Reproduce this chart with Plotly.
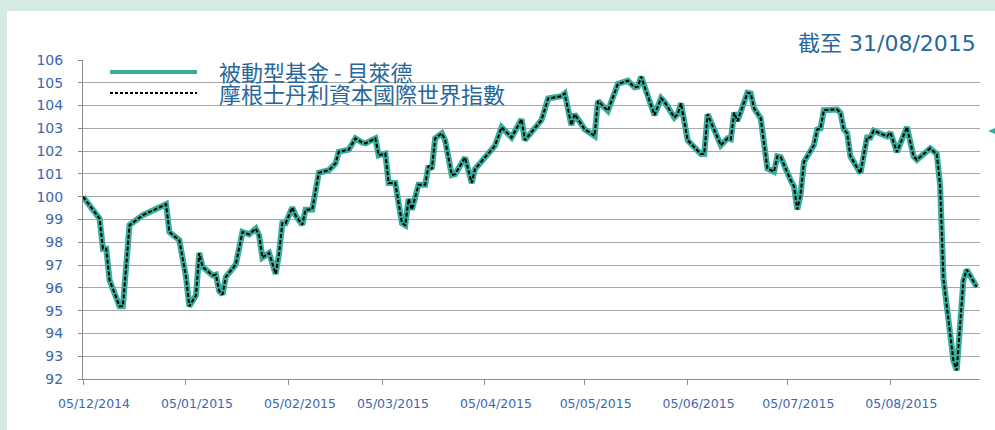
import plotly.graph_objects as go

dates = [
    "2014-12-05", "2014-12-09", "2014-12-10", "2014-12-11", "2014-12-12", "2014-12-13",
    "2014-12-16", "2014-12-17", "2014-12-18", "2014-12-19", "2014-12-23", "2014-12-30",
    "2014-12-31", "2015-01-03", "2015-01-05", "2015-01-06", "2015-01-08", "2015-01-09",
    "2015-01-10", "2015-01-13", "2015-01-14", "2015-01-15", "2015-01-16", "2015-01-17",
    "2015-01-20", "2015-01-22", "2015-01-24", "2015-01-26", "2015-01-27", "2015-01-28",
    "2015-01-30", "2015-02-01", "2015-02-02", "2015-02-03", "2015-02-04", "2015-02-06",
    "2015-02-07", "2015-02-09", "2015-02-10", "2015-02-12", "2015-02-14", "2015-02-17",
    "2015-02-19", "2015-02-20", "2015-02-23", "2015-02-25", "2015-02-27", "2015-02-28",
    "2015-03-03", "2015-03-04", "2015-03-06", "2015-03-07", "2015-03-09", "2015-03-11",
    "2015-03-12", "2015-03-13", "2015-03-14", "2015-03-16", "2015-03-18", "2015-03-19",
    "2015-03-20", "2015-03-21", "2015-03-23", "2015-03-24", "2015-03-26", "2015-03-27",
    "2015-03-30", "2015-04-01", "2015-04-02", "2015-04-08", "2015-04-10", "2015-04-13",
    "2015-04-16", "2015-04-17", "2015-04-22", "2015-04-24", "2015-04-28", "2015-04-29",
    "2015-05-01", "2015-05-02", "2015-05-05", "2015-05-08", "2015-05-09", "2015-05-12",
    "2015-05-15", "2015-05-18", "2015-05-20", "2015-05-21", "2015-05-22", "2015-05-26",
    "2015-05-28", "2015-05-29", "2015-06-01", "2015-06-02", "2015-06-03", "2015-06-05",
    "2015-06-09", "2015-06-10", "2015-06-11", "2015-06-15", "2015-06-17", "2015-06-18",
    "2015-06-19", "2015-06-20", "2015-06-23", "2015-06-24", "2015-06-25", "2015-06-27",
    "2015-06-29", "2015-07-01", "2015-07-02", "2015-07-03", "2015-07-06", "2015-07-07",
    "2015-07-08", "2015-07-09", "2015-07-10", "2015-07-13", "2015-07-14", "2015-07-15",
    "2015-07-16", "2015-07-20", "2015-07-21", "2015-07-22", "2015-07-23", "2015-07-24",
    "2015-07-27", "2015-07-29", "2015-07-30", "2015-07-31", "2015-08-04", "2015-08-05",
    "2015-08-07", "2015-08-10", "2015-08-12", "2015-08-13", "2015-08-17", "2015-08-19",
    "2015-08-20", "2015-08-21", "2015-08-24", "2015-08-25", "2015-08-27", "2015-08-28",
    "2015-08-31",
]

fund_values = [
    100.00, 99.26, 99.04, 97.72, 97.72, 96.33,
    95.19, 95.19, 97.06, 98.75, 99.19, 99.67,
    98.45, 98.09, 96.48, 95.19, 95.67, 97.53,
    96.92, 96.55, 96.58, 95.86, 95.71, 96.48,
    97.03, 98.45, 98.35, 98.60, 98.31, 97.33,
    97.53, 96.61, 97.50, 98.84, 98.84, 99.53,
    99.17, 98.77, 99.43, 99.44, 101.05, 101.16,
    101.46, 101.97, 102.07, 102.56, 102.38, 102.34,
    102.56, 101.82, 101.89, 100.60, 100.60, 98.84,
    98.75, 99.90, 99.43, 100.53, 100.53, 101.36,
    101.21, 102.56, 102.78, 102.48, 100.95, 100.99,
    101.72, 100.60, 101.21, 102.24, 103.05, 102.60,
    103.40, 102.48, 103.36, 104.31, 104.41, 104.53,
    103.14, 103.62, 102.96, 102.67, 104.20, 103.77,
    104.95, 105.09, 104.80, 104.83, 105.27, 103.58,
    104.32, 104.17, 103.48, 103.62, 104.10, 102.48,
    101.87, 101.87, 103.62, 102.26, 102.56, 102.52,
    103.69, 103.32, 104.56, 104.53, 103.88, 103.44,
    101.24, 101.10, 101.77, 101.74, 100.73, 100.46,
    99.44, 100.07, 101.53, 102.26, 102.95, 103.00,
    103.80, 103.83, 103.68, 102.96, 102.79, 101.77,
    101.03, 102.60, 102.60, 102.90, 102.65, 102.82,
    101.96, 103.06, 101.77, 101.62, 102.12, 101.87,
    100.50, 96.40, 92.80, 92.38, 96.33, 96.80,
    96.04,
]

index_values = [
    100.00, 99.26, 99.04, 97.72, 97.72, 96.33,
    95.19, 95.19, 97.06, 98.75, 99.19, 99.67,
    98.45, 98.09, 96.48, 95.19, 95.67, 97.53,
    96.92, 96.55, 96.58, 95.86, 95.71, 96.48,
    97.03, 98.45, 98.35, 98.60, 98.31, 97.33,
    97.53, 96.61, 97.50, 98.84, 98.84, 99.53,
    99.17, 98.77, 99.43, 99.44, 101.05, 101.16,
    101.46, 101.97, 102.07, 102.56, 102.38, 102.34,
    102.56, 101.82, 101.89, 100.60, 100.60, 98.84,
    98.75, 99.90, 99.43, 100.53, 100.53, 101.36,
    101.21, 102.56, 102.78, 102.48, 100.95, 100.99,
    101.72, 100.60, 101.21, 102.24, 103.05, 102.60,
    103.40, 102.48, 103.36, 104.31, 104.41, 104.53,
    103.14, 103.62, 102.96, 102.67, 104.20, 103.77,
    104.95, 105.09, 104.80, 104.83, 105.27, 103.58,
    104.32, 104.17, 103.48, 103.62, 104.10, 102.48,
    101.87, 101.87, 103.62, 102.26, 102.56, 102.52,
    103.69, 103.32, 104.56, 104.53, 103.88, 103.44,
    101.24, 101.10, 101.77, 101.74, 100.73, 100.46,
    99.44, 100.07, 101.53, 102.26, 102.95, 103.00,
    103.80, 103.83, 103.68, 102.96, 102.79, 101.77,
    101.03, 102.60, 102.60, 102.90, 102.65, 102.82,
    101.96, 103.06, 101.77, 101.62, 102.12, 101.87,
    100.50, 96.40, 92.80, 92.38, 96.33, 96.80,
    96.04,
]

tick_dates = ["2014-12-05", "2015-01-05", "2015-02-05", "2015-03-05", "2015-04-05",
              "2015-05-05", "2015-06-05", "2015-07-05", "2015-08-05"]
tick_labels = ["05/12/2014", "05/01/2015", "05/02/2015", "05/03/2015", "05/04/2015",
               "05/05/2015", "05/06/2015", "05/07/2015", "05/08/2015"]
y_ticks = list(range(92, 107))

series_names = ["被動型基金 - 貝萊德", "摩根士丹利資本國際世界指數"]
title_text = "截至 31/08/2015"

TEAL = "#37ad9c"
TICK_BLUE = "#3d66b0"
TEXT_BLUE = "#28679a"
MINT = "#d5eae4"

W, H = 995, 430
L, R, T, B = 83, 15, 60, 51
pw, ph = W - L - R, H - T - B


def px_x(x):
    return (x - L) / pw


def px_y(y):
    return (H - B - y) / ph


fig = go.Figure()
fig.add_trace(go.Scatter(
    x=dates, y=fund_values, mode="lines", name=series_names[0],
    line=dict(color=TEAL, width=6), showlegend=False,
))
fig.add_trace(go.Scatter(
    x=dates, y=index_values, mode="lines", name=series_names[1],
    line=dict(color="#000000", width=2, dash="4px,2px"), showlegend=False,
))

shapes = [
    # white panel on mint page
    dict(type="rect", xref="paper", yref="paper", layer="below",
         x0=px_x(7), x1=px_x(W + 5), y0=px_y(H + 5), y1=px_y(11),
         fillcolor="white", line=dict(width=0)),
    # legend samples
    dict(type="line", xref="paper", yref="paper",
         x0=px_x(110), x1=px_x(197), y0=px_y(72), y1=px_y(72),
         line=dict(color=TEAL, width=4)),
    dict(type="line", xref="paper", yref="paper",
         x0=px_x(110), x1=px_x(197), y0=px_y(93), y1=px_y(93),
         line=dict(color="#000000", width=2, dash="3px,2px")),
    # small marker at right edge
    dict(type="path", xref="paper", yref="paper",
         path="M {},{} L {},{} L {},{} Z".format(px_x(988), px_y(131), px_x(995), px_y(128),
                                                   px_x(995), px_y(134)),
         fillcolor=TEAL, line=dict(width=0)),
]

annotations = [
    dict(text=title_text, xref="paper", yref="paper", x=px_x(978), y=px_y(43),
         xanchor="right", yanchor="middle", showarrow=False,
         font=dict(family="DejaVu Sans, Noto Sans CJK TC", size=22, color=TEXT_BLUE)),
    dict(text=series_names[0], xref="paper", yref="paper", x=px_x(217), y=px_y(71),
         xanchor="left", yanchor="middle", showarrow=False,
         font=dict(family="Noto Sans CJK TC", size=22, color=TEXT_BLUE)),
    dict(text=series_names[1], xref="paper", yref="paper", x=px_x(217), y=px_y(93),
         xanchor="left", yanchor="middle", showarrow=False,
         font=dict(family="Noto Sans CJK TC", size=22, color=TEXT_BLUE)),
]

fig.update_layout(
    width=W, height=H,
    margin=dict(l=L, r=R, t=T, b=B, pad=0),
    paper_bgcolor=MINT, plot_bgcolor="white",
    shapes=shapes, annotations=annotations,
    font=dict(family="DejaVu Sans"),
)
fig.update_xaxes(
    type="date", range=["2014-12-05", "2015-09-01"],
    tickmode="array", tickvals=tick_dates, ticktext=tick_labels,
    showgrid=False, showline=True, linecolor="#8c8c8c", linewidth=1,
    ticks="outside", ticklen=5, tickcolor="#8c8c8c",
    tickfont=dict(family="DejaVu Sans", size=12.5, color=TICK_BLUE),
    ticklabelshift=11, ticklabelstandoff=8, zeroline=False,
)
fig.update_yaxes(
    range=[92, 106], tickmode="array", tickvals=y_ticks,
    showgrid=True, gridcolor="#a9a9a9", gridwidth=1,
    showline=True, linecolor="#8c8c8c", linewidth=1,
    ticks="outside", ticklen=4, tickcolor="#8c8c8c",
    tickfont=dict(family="DejaVu Sans", size=14, color=TICK_BLUE),
    ticklabelstandoff=12, zeroline=False,
)

fig.write_html("out.html", config={"displayModeBar": False},
               post_script="document.body.style.margin='0';")
